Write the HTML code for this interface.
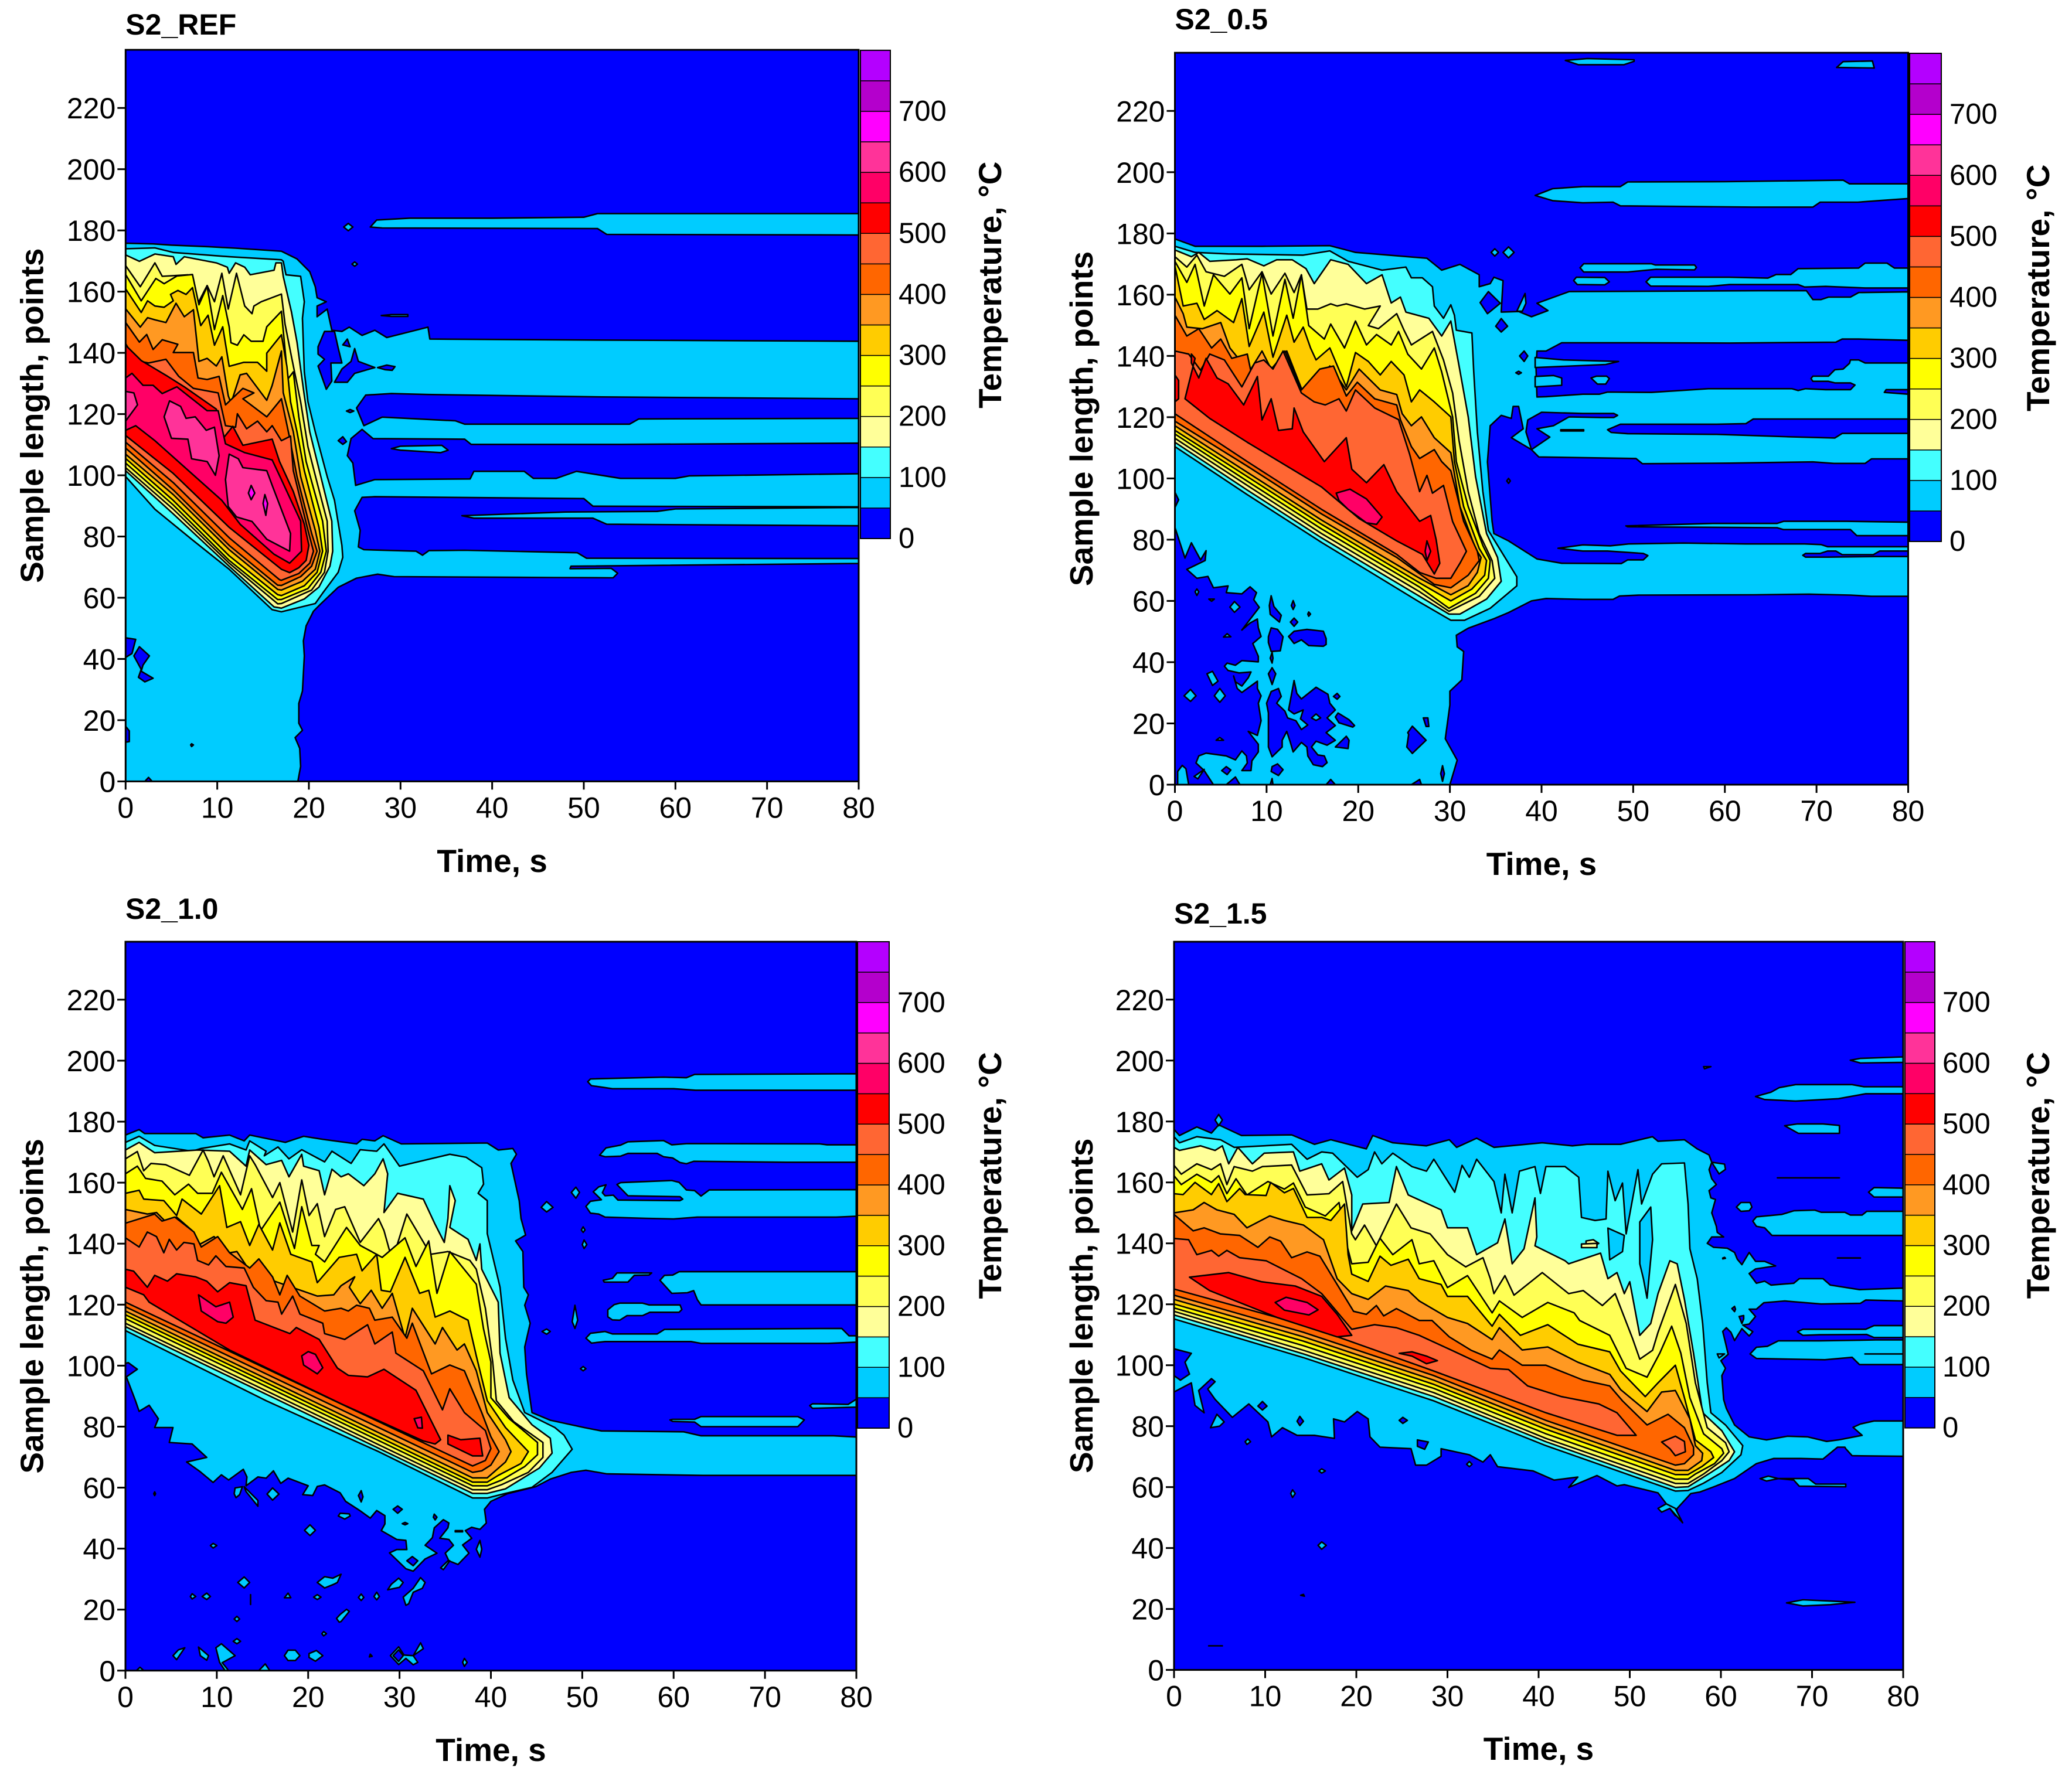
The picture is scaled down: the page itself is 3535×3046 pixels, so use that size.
<!DOCTYPE html>
<html lang="en">
<head>
<meta charset="utf-8">
<title>Temperature contour maps</title>
<style>
html,body{margin:0;padding:0;background:#fff}
svg{display:block}
text{font-family:"Liberation Sans",Arial,sans-serif;fill:#000}
</style>
</head>
<body>
<svg id="figure" xmlns="http://www.w3.org/2000/svg" width="3535" height="3046" viewBox="0 0 3535 3046"></svg>
<script>
/* ---------- shared scales ---------- */
const timeTicks=[0,10,20,30,40,50,60,70,80];
const pointTicks=[0,20,40,60,80,100,120,140,160,180,200,220];
const legendTicks=[0,100,200,300,400,500,600,700];
const levelColors=["#0000ff","#00ccff","#44ffff","#ffff99","#ffff55","#ffff00","#ffcc00","#ff9922","#ff6600","#ff6633","#ff0000","#ff0066","#ff3399","#ff00ff","#b400cc","#b400ff"];

/* ---------- S2_REF : contour outlines as flat [time,points,...] ---------- */
const refL1=[[0,0,0,175.8,3,175.6,5,175.2,9,174.7,12,174.2,17,173.2,18.7,170.7,20.1,166.5,20.7,161.6,20.9,158,21.9,156.7,20.9,155.3,20.9,151.8,22,154.3,22.5,147.4,23.6,147,24.4,148.4,25.8,145.7,27.2,147.4,28.5,145,33,148.4,33.2,144.5,50,144.2,80,143.8,80,71.2,48.6,70.3,48.5,69.5,53,69.6,53.7,68,53.2,66.5,46.8,66.6,29.3,66.9,27.5,67.7,25.2,66.4,23.2,63.4,21.3,58,20.5,55.6,19.7,50.8,19.4,45.9,19.5,41,19.3,29.5,18.9,25.5,18.9,19,19.3,16.7,18.5,14.3,19,10.8,19.1,4.9,18.8,0]];
const refHoles=[
[80,125,52,125.6,33,126.4,29,126.7,26.2,126.2,25.2,122,26,116.2,28,119,36,117.8,37,116.7,55,116.7,56,118.4,80,118.6],
[80,110.5,54,110.1,37.7,110.1,37,111.8,27,112,25.8,115,24.6,112,24.2,106.4,24.8,104,25.1,96.7,27.2,98.6,37.6,98.8,38,101.3,43.5,101.3,44.5,99,47,99,49.2,101.3,54,99,60,99,61.5,99.8,80,100.5],
[80,89.7,51,89.9,50,92.4,27.2,93,25.8,92.8,25,88.4,25.6,82,25.4,76.6,26,75.7,31.7,75.2,32.4,73.9,33.1,75.4,37,75.5,49.3,74.7,50.3,72.9,80,72.8],
[21.7,147,22.8,147,23.2,141.6,23.6,136.7,22.4,136.7,22.5,130.8,21.9,128.1,21,135.7,21.7,137.9,21,139.6,21,142],
[23.7,142.6,24.2,144.5,24.5,142],
[22.8,130.4,23.6,134.7,24.6,137.2,25,141.4,25.4,137.2,27.2,135.2,25,133.3,24.2,130.4],
[27.5,135.2,28.5,136,29.4,135.5,29.1,134.3,28.3,134.5],
[24.1,121,24.5,121.5,24.9,121,24.5,120.5],
[23.2,111.3,23.7,112.6,24.1,111,23.7,110.1],
[0,46.9,1.1,46.4,0.7,41.8,0,40.5],
[1.5,44,2.6,41,1.9,38,1.7,36,3,33.7,2.1,32.5,1.4,34,1.7,36.6,0.9,41],
[0,18,0.4,16.5,0.4,13,0,12.8],
[2.1,0,2.5,1.3,2.9,0],
[7.2,12.3,7.4,11.9,7.2,11.4,7.1,11.9]
];
const refIslands=[
[26.7,181.1,27.4,183.4,31,184,40,184,50,184.3,51.5,185.5,80,185.5,80,178.5,52.5,178.7,51.5,180.6,28,180.8],
[36.7,86.8,48,88,58,88.2,60,89,80,89.5,80,83.5,52.5,84,51,86,38,86],
[29,108.7,30,109.5,34.5,109.8,35.2,108.2,34.4,107.4,30,108.2],
[23.8,181.1,24.3,182.3,24.8,181.1,24.3,179.9],
[24.7,169,25,169.7,25.3,169,25,168.3],
[27.9,152.2,29,152.5,30.8,152.5,30.8,151.9,29,151.9]
];
const refL2=[[0,174,3.2,174.3,5.2,172.8,11.3,171.4,17,170.4,17.2,169.9,17.5,165.5,19.1,165,19.5,156.7,19.3,151.3,19.5,133.8,19.9,124,20.7,114.2,22,99.6,22.8,91.8,23.6,77.1,23.7,73.2,23.2,68.3,21.5,61.5,20.7,58.1,17,55.4,16,56.1,11.3,69.3,7.2,79.1,3.2,88.9,0,99.6]];
const refL3=[[0,172,1.5,169.9,3.2,172.3,5.2,171.4,5.5,168.9,6.4,171.4,9.9,169.4,11.1,168,11.3,166,12,169.4,13,168,13.6,165.5,16.2,167,16.4,169.4,17,169.4,17.2,165,18.1,153.3,18.7,143.5,19.5,126,20.1,114.2,21.3,99.6,22.5,85,22.6,75.2,22.3,70.3,21.1,63.5,19.5,59.6,17,56.6,16.2,57,11.3,70.3,5.2,87.4,0,101.5]];
const refL4=[[0,168.5,1.6,161.6,3.2,169.4,4,165,6.8,165.5,7.9,156.2,8.9,162,9.7,156.7,10.5,166,11.2,154.3,12.1,166,13,155.3,13.8,152.8,14,155.3,14.8,156.7,17,159.2,17.4,149.4,18.1,138.7,19.1,124,19.9,109.3,20.9,97.6,22,85,22.1,75.2,21.7,68.3,20.3,62.5,17,58.1,16.6,58,11.3,71.3,5.2,88.9,0,102.5]];
const refL5=[[0,165.6,1.7,157,3.3,164.3,4.2,162.6,5.6,165.1,7.3,165.6,8,155.7,8.9,161.7,9.7,147.6,10.6,158.7,11.3,148.5,11.5,143.3,12.2,142.5,12.9,145.9,13.7,143.8,15,143.8,15.4,148.5,17,153.6,17.3,144.2,17.7,131.4,18.3,133.8,18.9,119.1,19.7,104.5,21.5,85,21.9,75.2,21.3,68.3,19.9,63,17,59.4,16.6,59.4,11.3,72.2,5.2,90.3,0,104],[3.6,152.4,4.1,153.8,4.9,152.4,4.2,151.6]];
const refL6=[[0,160.9,1.7,153.2,2.4,157,3.2,155.3,4.2,154.9,5.2,157,4.9,159.1,5.7,160.4,6.6,159.1,7.3,161.3,8.2,148.9,9,152.3,9.7,142.5,10.6,148.5,11.3,135.6,12.9,136.9,14.4,136.9,15.4,134,15.4,139.9,17,145.9,17.6,135.6,18,124,18.7,114.2,19.5,101.5,21.1,83,21.5,75.2,20.9,68.3,19.5,63.9,17,60.7,16.6,61,11.3,73.7,5.2,91.8,0,105.5]];
const refL7=[[0,154.4,1.6,148.4,2.4,151.5,3.2,150.8,4.4,149.9,5.5,156.2,6.4,151.8,7.4,154.1,8,137.2,8.9,138.2,9.9,135.7,10.5,138.7,11.2,126,11.5,123.5,12.5,132.8,13.2,133.3,15.4,124.5,16,129.4,17,140.6,17.2,127,18.3,114.2,19.1,99.6,20.7,82,21.2,75.2,20.7,69.3,19.3,65.4,17,62.5,16.6,62.7,11.3,75.7,5.2,93.7,0,106.9]];
const refL8=[[0,149.9,1.5,143.5,2.3,146,3,141.1,4,144.3,5.7,142.8,5.2,140.1,7.4,140.1,7.9,131.8,8.9,131.3,10.2,132.3,10.9,123,12.8,128.4,14,126.9,12.8,125,15.4,119.1,17,125,17.9,112.3,18.7,99.6,20.3,81,20.9,75.2,20.3,70.3,19.1,66.9,17,64,16.6,64.1,11.3,77.1,5.2,95.2,0,108.9]];
const refL9=[[0,143,1.1,137.5,2.5,136.7,4.4,137.9,5.8,132.3,7.4,128.4,10.1,126.9,10.9,116.2,12,115.7,12.2,120.1,13.2,115.2,14.4,117.7,15.4,114.2,16,116.2,17,111.3,18,112.8,18.3,101.5,19.9,82,20.5,75.2,20.1,71.3,18.9,67.9,17,65.7,16.8,65.9,11.3,79.6,5.2,97.6,0,110.8]];
const refL10=[[0,142.5,1.7,137.5,4.6,132.3,6.4,128.9,9.9,121.6,10.7,112.3,11.7,116,12.8,109.8,16,111.8,16.8,104.5,18.3,94.7,19.5,84,20,77.1,19.7,72.2,18.9,69.8,17.9,68.2,17,69.3,11.3,83,5.2,100.6,0,113]];
const refL11=[[0,131.8,0.7,133.3,1.9,129.4,3,129.4,4,126.7,5.6,128.9,8.9,121.1,10.1,121.1,10.9,110.3,13,107.4,16,105,17,98.6,19.1,85,19.2,75.2,17.9,71.3,16.2,74.2,12.5,84,10.5,91.8,7.2,100.6,3.2,111.3,1.1,116.2,0,114.7]];
const refL12=[[0,127.4,0.9,126.9,1.3,123,0,117.7],[4.8,124.3,6,122.5,6.6,118.6,7.6,119.1,8.8,114.7,9.7,115.7,10.2,106.4,9.8,100,8.9,104.5,7.2,105.4,6.8,111.8,5,112.1,4.2,119.1],[11.3,106.9,12.3,105.4,12.8,102.5,15.4,101.5,16,96.7,18,81,17.9,75.2,15.4,79.1,13.8,84.9,12.1,86.4,11.2,89.8,10.9,98.6]];
const refL13=[[13.7,96.7,14.1,94.2,13.7,92,13.4,94.2],[15.2,93.7,15.5,90.8,15.3,86.9,15,90.8]];

/* ---------- S2_0.5 ---------- */
const p05L1=[[0,178.2,2.2,175.8,9.5,175.8,16.9,176,19.7,173.8,27.5,171.9,29.1,168,31.1,169.9,33.2,166.5,33.2,162.6,34.4,163.6,34.8,165.7,35.8,164.6,35.6,154.3,37.5,154.5,38.9,152.8,40.7,154.8,39.5,157.2,43,161,63.7,161.3,68.9,161.3,69.6,158.4,70.5,158.4,71.3,159.2,73.7,159.2,74.6,160.7,80,160.9,80,61.5,76,61.5,73.7,61.9,69.2,62.2,63.2,62,50.6,61.9,48.5,61.6,47.8,60.5,44.5,60.5,40.5,60.8,38.9,60,36.4,56.2,34.8,54.2,32,51.1,30.7,48.8,30.8,45,31.5,43.5,31.3,34.2,30,30.5,30,26,29.5,15,30.8,8,30,0,0,0]];
const p05Holes=[
[80,145.1,74.6,145.5,72.8,145.5,72.1,144.5,60.5,144.2,49.2,144.3,44.5,144.3,42.2,144.3,40.5,141.6,39.5,141.6,39.4,136,39.5,126.6,40.5,126.7,44.5,127.5,46.3,127.5,47.2,128.2,52,128.1,58.2,129.3,67.3,129.3,68,128.7,68.8,129.3,71,129,73.7,129,74.2,130.5,73.7,131.2,72,131.2,71.3,131.7,69.6,131.7,69.4,132.6,69.6,133.4,71.3,133.4,72,135.5,72.9,135.7,73.6,137.6,73.7,138.7,74.6,138.7,75.3,137.7,80,137.7],
[77.4,128.1,77.6,129,80,129,80,127.5],
[80,106.4,76,106.4,75.3,104.9,71.9,104.9,69.6,105.4,60.5,105,51,104.8,50.3,106.5,39.7,107,38.9,109.4,36.7,113.3,38,116.2,37.5,123.5,36.9,123.5,36.7,119.6,35.6,120.6,34.4,117.2,34.1,105.4,34.6,86,34.8,82,36.4,79.6,39.5,73.7,42.2,72.3,48.7,72.2,49.4,73.4,51.1,73.4,51.6,74.8,51.1,75.5,47.2,76.3,44.5,76.3,41.8,77.2,44.5,78.3,47.5,78,49.5,78.6,55.5,78.9,62.3,78.6,68.7,78.6,70.5,78.4,71.2,77.7,80,77.7],
[47.2,115.9,48.6,117.7,59.1,117.7,62.3,117.9,63.1,119.4,80,119.4,80,114.7,72.8,114.7,72,113.2,66.9,113.6,59.1,114.4,49.4,114.6,47.6,115],
[38.5,119.1,40,121.6,44.5,121.2,47.9,121.2,48.3,120.6,47.9,119.9,46.5,119.9,43,120.1,41.3,117.2,39.5,116.2,40.9,113.5,38.9,109.4,38.3,115.2],
[68.5,74.9,68.8,75.5,70.4,75.5,71.2,76.3,72.1,76.3,72.8,75.1,76.2,75.1,76.9,76.3,80,76.3,80,74.5,76.4,74.5,71.2,74.3,68.8,74.3],
[34.2,161,35.5,157.2,34.1,153.8,33.3,157.4],
[35.6,152.2,36.3,149.7,35.6,147.8,35,149.7],
[38.1,141.6,38.5,140,38.1,138.2,37.6,140],
[37.2,134.5,37.5,135,37.8,134.5,37.5,134],
[36.4,100,36.6,99.2,36.4,98.4,36.2,99.2],
[0,95.5,0.4,93,0,90.5],
[0,0,0.3,0,0.3,4.3,0.8,6.3,1.2,5.2,1.5,0,4.2,0,3.2,4.6,2.3,7.1,2.6,9.4,3.4,10.3,5.6,9.4,6.6,8.1,7.3,11,7.8,9.4,7.9,7.1,7.3,4.6,8.3,4.6,8.4,7.8,9.1,10.7,9.1,13.2,8,17.4,9,16.1,9.4,20.9,9.1,26.6,9.4,29,9,31.4,9,33.8,7.3,30.1,6.8,31.4,6.4,35.5,6.6,33.6,7.3,32.2,8,34.9,8.3,36.8,7,36.5,5.8,37.3,5.4,38.7,5.7,39.7,6.6,39,7.3,40.5,9.1,40.1,9.1,41.9,8.5,46.1,9.4,48.4,9.1,51.2,9,54.1,8.2,52.8,7.3,50.5,9.2,57.9,8.6,60.4,8.9,62.7,8.2,64.6,7.3,62.3,5.6,62.7,5.8,64.9,4.2,64.3,3.6,68,2.4,67.4,1.3,70.3,3.3,73.2,3.4,76.4,2.8,73.4,1.8,79,1.1,74,0,84],
[5.6,0,6.6,2.5,7.1,0],
[10,26.6,10.5,30.4,11.3,31.4,11.6,28.8,11.1,26.6,12,24,12.3,21.8,13.2,20.9,13.8,18,14.5,19.5,13.7,21.5,14,24.4,13,23.1,12.4,24.4,12.7,29.2,13,34,13.3,29.8,13.8,28,15.4,31.8,16.7,29.5,16.9,26.6,17.5,24.4,16.6,21.8,17.5,19.3,16.5,17,17.5,14.5,16.6,12.9,15.4,14.2,14.9,12.3,15.6,9.7,16.3,9.4,16.6,7.2,16.1,5.9,15.1,6.5,14.5,9.4,14.4,12.3,13.8,13.8,12.9,10.7,12.6,13.8,12.2,17.4,11.7,14.5,11.7,12.3,10.6,9.1,10.2,12.3,10.2,23.4],
[10.5,61.7,10.8,58.2,11.6,55.3,11.4,53.1,10.4,55.6,10.3,58.5],
[10.5,51.2,11.2,50.7,11.8,48.3,11.5,43.7,10.5,43.5,10.2,46.4,10.2,48.3],
[10.6,43.2,10.7,41.3,10.6,39.7,10.4,41.3],
[10.6,38.2,11,36.2,10.6,32.7,10.2,36.2],
[12.9,60.1,13.1,58.5,12.9,57.2,12.7,58.5],
[13,54.4,13.4,53.1,13,51.7,12.6,53.1],
[14.6,56.4,14.8,55.7,14.6,55,14.5,55.7],
[12.4,48.4,13,50.1,14.4,50.7,16.2,50.1,16.5,47.7,16.5,45.8,16.2,45.2,14.6,45.4,13.8,47.3,13,46.1],
[17.7,29.8,18,28.8,17.7,27.9,17.3,28.8],
[17.8,23.4,19,21.2,19.6,19.3,19.4,18.8,17.9,20.2,17.5,22.1],
[18.7,15.8,19,14.5,18.9,11.8,17.5,12.3],
[27.1,21.8,27.6,21.8,27.7,19,27.4,19],
[25.9,19.1,27.4,14.5,25.9,10.2,25.3,12.3,25.5,16.4,25.4,17],
[29.2,6.2,29.4,3.6,29.2,1.1,29,3.6],
[11.2,6.8,11.8,4.9,11.3,3,10.5,4.3,10.6,5.9],
[10.6,2,10.7,0,10.4,0],
[17,1.7,17.5,0,16.5,0],
[26.7,1.7,26.9,0,25.8,0],
[5.6,5.9,6.1,4.8,5.7,3.3,5.1,4.6]
];
const p05Islands=[
[39.3,192.4,41.2,194.6,44.5,195.3,48.6,195.3,49.4,196.8,60,196.9,72.9,197.4,73.6,196.2,80,196.2,80,191.4,74.5,190.2,70.4,190.2,69.6,188.6,63,188.6,48.6,189,47.8,190.2,44.5,190,41.2,190.7],
[42.6,236.5,45,237.1,50.1,236.7,50.1,236.2,49,235.1,44,235.1],
[72.2,234.2,72.9,236.1,76.1,236.3,76.3,234],
[44.2,168.8,44.6,170.1,52,170.1,52.4,169.7,56.7,169.7,56.9,168.9,56.7,168.1,52.5,168.3,49.4,167.4,44.6,167.4],
[43.5,164.6,43.8,165.7,46.9,165.6,47.4,164.2,46.9,163.2,43.9,163.3],
[51.4,164.2,51.9,165.7,60.5,165.7,64.7,165.4,65.6,166.6,67.2,166.6,68,168.5,74.6,168.7,75.3,170.3,77.7,170.3,78.5,168.7,80,168.7,80,162.2,75.3,162.2,71,162.7,68.7,162.5,68,163.3,60.5,163.3,58.2,162.7,51.9,162.8],
[39.3,139.5,42.4,138.7,48.4,138.2,47,137.2,39.3,136.2],
[39.3,133.3,41.3,133.6,42.2,132.8,42.2,130.4,39.3,129.9],
[45.4,132.8,46,133.4,47.1,133.4,47.4,132.6,47,130.8,46.1,130.8],
[49.2,84.5,58.7,85.3,65.7,85.3,66.4,86,73.3,86,80,85.7,80,81.3,74.4,81.3,73.7,83.3,66.4,83.3,65.7,83.9,49.4,84.2],
[38.2,160.4,38.3,157.2,37.9,154.6,37.3,154.6],
[34.5,173.8,34.9,175,35.3,173.8,34.9,172.6],
[35.8,173.8,36.4,175.6,37,173.8,36.4,172],
[42.1,115.9,44.6,115.9,44.6,115.5,42.1,115.5],
[2.4,63.9,2.6,63,2.4,61.8,2.2,63],
[3.7,60.6,4.3,60.6,4,59.9],
[6.5,59.8,7.1,58,6.5,56.3,6,58],
[5.7,49.3,6.1,48.3,5.3,48.2],
[4.1,37,4.7,33.8,4.1,32.4,3.5,36.2],
[1.7,31.1,2.3,29,1.7,27.2,1,29],
[4.9,31.4,5.5,29,4.9,26.9,4.3,29],
[15.4,23.1,15.9,21.8,15.4,21,14.9,21.8],
[4.9,15.4,5.3,14.5,4.5,14.5],
[2.1,2.7,3.2,5,2.5,1.9]
];
const p05L2=[[0,175.8,2.2,173.8,5.8,173.3,14,172.9,16.9,174.3,18.9,170.9,22.6,168,25.2,169,25.8,165.5,27,165.5,28.1,162.6,28.3,156.3,29.3,152.3,30.1,156.7,30.5,153.3,30.7,148.4,32.4,147.5,32.6,134.8,33,115.2,33.6,95.7,34.2,83,35.6,76.2,37.3,67.9,37.3,64.9,34.4,57.6,31.6,53.7,30.1,53.7,26.7,59.6,16,79.1,7.9,94.7,0,110.4]];
const p05L3=[[0,174.6,1.8,172.4,2.6,173.8,3.8,170.9,6.7,171.4,7.9,171.7,9.7,169.4,11.1,171.4,12.8,171.4,14.3,168.5,15.2,163.6,17,171.4,18.9,169.9,20.9,163.6,22.6,166.5,23.6,157.3,24.6,159.2,25.2,154.3,27.7,152.3,29.1,146.5,30.1,151.4,31,136.7,32,120.1,32.8,100.6,34,82,35.2,74.2,35.6,66.4,34,60.6,31.1,55.7,29.9,55.7,26.7,61.5,16,80.6,7.9,96.2,0,111.8]];
const p05L4=[[0,172.4,1.3,169,2.4,172.9,3.4,167.5,5.4,166,7.3,169.9,8.1,161.6,9.5,167.5,10.5,160.2,12,167,13,160.7,13.8,166.5,14.4,155.3,15.6,155.3,17,157,17.7,156.3,18.7,157,20.7,155.3,22.4,156.3,21.1,149.9,22.2,148.9,24.2,153.8,25,148.4,25.8,143.6,28.1,148,29.3,138.7,30.3,127.9,31,112.3,32,95.7,33.2,82,34.6,73.2,34.9,67.4,33.2,61.5,29.9,56.6,26.7,63,16,82,7.9,97.7,0,113.1]];
const p05L5=[[0,170.9,1.3,164,2.2,169.9,3.2,156.3,4.2,166.5,6,160.2,7.3,165.5,8.1,148.9,9.5,167,10.7,146.5,12,165,12.9,152.3,13.8,166.5,14.6,149.9,16.3,145.5,17,150.4,18.5,142.6,19.7,151.4,20.9,143.6,22,147,23.6,143.6,24.4,148,25.4,140.6,26.9,135.7,28.3,142.6,29.1,134.8,30.3,120.1,30.7,105.5,32,90.8,33.6,78.1,34.4,73.2,34.2,67.4,32.8,62.5,29.9,57.6,26.7,64.5,16,83.5,7.9,99.1,0,114.5]];
const p05L6=[[0,169.4,0.9,156.3,2.4,157.2,3.2,151.9,4.6,154.8,6.4,150.9,7.3,158.7,8.1,143.1,9.7,154.3,10.7,139.6,12.2,153.3,13,144.5,14,149.4,14.8,142.6,15.4,138.7,16.9,142.6,18.7,129.9,19.7,141.1,21.1,138.2,22.4,133.8,23.6,138.2,25,133.8,25.8,125,26.7,128.9,28.3,125,30.1,120.1,30.5,105.5,31.5,90.8,33.2,77.1,34,73.2,33.8,68.4,32.4,63.9,30.1,60,26.7,65.9,16,85,7.9,100.6,0,115.7]];
const p05L7=[[0,159.2,0.9,153.8,1.3,149.4,3,148.9,5,150.9,6,142.6,8.1,134.8,9.5,141.6,10.5,135.7,12.2,141.6,14,127.9,15.4,131.8,16.9,136.7,18.7,128.9,20.1,135.7,22.4,128.9,24.2,127.4,24.8,121.1,25.8,117.2,26.9,120.1,28.3,113.3,30.1,108.4,31.1,90.8,32.8,77.1,33.4,74.2,33,69.3,32,65,30.1,62,26.7,67.4,16,86.4,7.9,102,0,117.2]];
const p05L8=[[0,153.3,1.3,146.5,2.6,148.9,4,142.6,5,145.5,6.2,139.2,7.9,140.6,8.3,134.8,9.5,136.7,10.5,135.3,12,141.6,13.8,128.9,15.8,135.7,17.3,136.7,18.7,126.9,19.9,131.4,21.8,126,24.2,124,24.6,119.2,25.8,110.4,26.7,106.5,28.3,109.4,29.1,105.5,30.1,102.5,31.5,86,33,76.2,33.2,73.2,32,68.4,30.1,64.3,28.3,65.4,24.2,74.2,16,88.4,7.9,104,0,118.7]];
const p05L9=[[0,141.6,1.5,140.6,2.8,135.3,3.8,140.6,5.4,138.7,7.3,129.9,8.7,137.7,9.7,138.7,10.7,135.7,11.8,141.6,13.8,127.9,15.2,125,16.4,124,17.9,126,18.7,122,19.7,128.9,21.8,123,24.4,119.2,25.6,108,26.7,95.7,27.5,101,28.1,95.2,29.3,97.7,30.3,85.9,31.8,76.2,31.1,72.3,30.1,67.4,28.5,67.4,26.7,69.3,24.2,75.2,16,89.9,7.9,105.5,0,121.1]];
const p05L10=[[1.8,140.6,2.2,139.2,1.1,126,3.8,119.6,7.9,111.8,16,97.2,20.1,86.9,24.2,79.6,27,75.2,28.3,68.8,28.9,72.3,28.5,80,27.9,87.9,26.7,86,24.2,95.7,22.8,104.5,20.9,98.6,19.3,103,18.7,113.3,16.3,105.5,14,115.2,13,123,12.8,116.2,11.3,115.7,10.5,126,9.5,119.1,9,133.3,7.5,124,5.8,130.9,4.6,132.8,3.4,139.2,2.6,132.8,1.8,137.7],[0,133.8,0.4,132,0.4,126,0,125]];
const p05L11=[[17.6,95.2,19.1,96.5,20.9,93.3,22.6,87.4,22,85,20.9,85.5,18.9,89.9,17.9,92.8],[27.5,79.6,27.9,76.2,27.5,73.2,27.3,76.2]];

/* ---------- S2_1.0 ---------- */
const p10L1=[[0,175.6,1.5,177.4,2.1,176.1,7.7,176.1,8.5,174.7,11.4,175.6,13,173.7,13.6,175.6,17.5,173.2,19.5,175.2,21.6,174.2,25.3,172.7,25.9,174.2,27.3,173.7,28.2,175.4,30.2,172.7,39.6,173,40.8,170.7,42.4,171.2,42.8,169.3,42.2,166.3,43.1,154.1,43.3,148.2,43.8,142.8,42.7,140.9,43.5,137.4,43.6,125.7,44.1,123.2,43.7,119.8,44.3,113.9,43.7,106.1,43.9,97.3,44.5,84.6,46.5,82.1,50.2,79.7,52.1,78.6,61.1,78.3,63,77,77.5,77,80,76.6,80,64,63.2,64,52.7,64.5,50.4,65.7,48.8,65,46.5,62.8,44.9,60.3,41.8,58,40,55.5,39.3,52.9,39.5,48.4,38.8,46.3,37.9,47,37.2,45.9,37.9,43.4,36.9,41.2,37.6,38.5,36.4,34.8,35.4,36,35,38.5,35.9,41.1,35.4,43,34.4,43.4,35.3,46.8,35.4,48.4,34.8,49.5,33.8,46.8,33.6,43.6,32.8,41.1,34.1,38.5,32.8,36.6,31.5,32.6,30.7,33.4,28.9,38.6,29.7,39.7,30.8,39.7,30.7,42.7,29.7,43,28,45.9,28.4,48.1,28.4,50.8,27.5,52.5,26.8,50,25.6,52.6,24.1,55.5,23.5,58.3,21.8,60.9,21,60.4,20.5,57.4,19.4,57.7,20,60.6,17.8,63.1,17,61.4,16.2,65.5,15.4,63.1,14.5,63.5,13.2,60.6,13.3,63.5,12.9,66,11.3,62.5,10.5,64.2,9.6,61.7,8.1,65.4,6.7,68.4,8.9,69.9,7.3,74.3,4.8,74.8,5.2,79.7,3.2,79.7,3.6,82.6,2.6,87,1.5,85,1.1,88.5,0.1,96.3,1.3,98.8,0.3,101,0,100.7]];
const p10Holes=[
[25.8,59,26,57,25.8,55.3,25.5,57.4],
[29.8,54,30.3,52.9,29.8,51.6,29.3,52.9],
[33.8,51.3,34.1,50.3,33.9,49.4,33.7,50.3],
[31.4,37.4,32,36,31.5,34.4,30.8,36],
[30.6,48.6,30.9,48.2,30.6,47.8,30.3,48.2],
[36.1,45.9,36.9,45.9,36.9,45.5,36.1,45.5]
];
const p10Islands=[
[50.6,193.1,50.9,194,58.9,194.6,61.4,194.4,62.3,195.5,80,195.7,80,190.3,62.4,190.3,60,190.8,53.3,190.8,51,191.8],
[51.9,169,52.6,171.4,54.2,172.3,55,173.4,58.9,173.8,59.8,172.4,61.5,172.8,76,172.7,76.8,172.4,80,172.4,80,166.7,72.4,166.7,62.2,167,61.4,166.2,60.7,166.6,59.9,168.1,58.9,168.5,58.2,169.6,55,169.6,54.2,168.7,52.5,168.5],
[50.4,152.2,50.9,153.9,52.1,154.4,51.2,157,51.8,158.6,52.6,159.3,52.2,156.7,52.5,155.7,53.4,155.9,53.9,154.3,60.7,154.1,61,154.6,60.7,155.4,55,155.7,53.8,159.4,54.2,160,59.8,160.7,60.6,160.1,61.4,157.6,62.3,157.4,63,155.6,63.9,157.6,80,157.7,80,149,77.8,148.7,62.6,148.7,60,148.1,57,148.3,52.5,148.7,51.8,149.7,50.9,150],
[52.3,128,53.3,128.6,53.8,130.4,57.6,130.4,57.3,129.7,55.7,129.6,55,127.4,52.4,127.4],
[58.5,128,59,129.6,59.9,129.7,60.6,130.8,80,130.8,80,119.9,63,119.9,62.6,121.6,62.2,124.6,61.5,123.9,59.8,123.7],
[52.8,118.3,53.5,120,54.1,120.5,56.6,120.5,57.3,119.9,60.7,119.9,60.9,118.4,60.6,117.5,57.4,117.5,56.6,116.4,54.9,116.4,54.1,114.9,53.3,115,52.8,116],
[50.4,109,50.9,110.6,52.5,111.2,53.3,110.4,58.2,110.4,59,111.9,78.4,112.2,79.2,109.8,80,109.8,80,107.7,76.9,107.3,63,107.3,61.9,107.9,52.5,107.9,51,107.4],
[74.9,86.9,75.2,87.5,79.1,87.3,80,89,80,86.4,75.2,86],
[59.6,82.2,59.9,82.4,62.3,82.4,63,83.3,73.6,83.3,74.3,82.2,73.6,80,63,80,62.3,81.5,59.9,81.7],
[46.1,153.8,46.8,151.9,46.1,150.4,45.5,151.9],
[49.3,158.5,49.7,156.8,49.3,154.9,48.8,156.8],
[50.1,145.5,50.3,144.5,50.1,143.7,49.9,144.5],
[50.2,141.2,50.5,139.7,50.2,138.4,50,139.7],
[49.2,119.8,49.5,114.9,49.2,112.2,48.9,114.4],
[46.1,112,46.5,111.2,46.1,110.3,45.6,111.2],
[50.1,99.7,50.4,99,50.1,98.3,49.8,99],
[12,59.9,12.8,60.3,12.5,57.7,12.1,56.7,11.9,58],
[13,60.3,14.5,55.8,14.5,53.9,13.2,58.7],
[16.1,59.9,16.8,57.9,16.1,55.9,15.5,57.9],
[3.2,58.6,3.3,58,3.2,57.4,3.1,58],
[20.2,47.8,20.8,46,20.2,44.3,19.6,46],
[23.5,51.6,24.5,51.4,24.6,50.7,24,49.7,23.3,50.7],
[9.6,41.7,10,41,9.6,40.2,9.3,41],
[13,30.7,13.6,28.9,13,27.1,12.3,28.9],
[21,28.9,21.8,30.8,22.7,30.3,23.6,31.6,23.2,28.9,22.8,28.3,21.8,27.1],
[29.9,30.3,30.4,28.9,30,27.3,28.7,26.5,29.1,28.3],
[32.3,30.5,32.8,28.9,32.5,27,31.5,25.7,31,21.9,30.7,21.4,30.4,24.1,31.5,27],
[35.3,36,35.5,36,34.8,33.1,34.5,33.7],
[38.8,42.7,39,39.8,38.8,37.2,38.4,39.8],
[7.3,25.2,7.7,24.3,7.3,23.5,7.1,24.3],
[8.9,25.4,9.3,24.3,8.9,23.3,8.4,24.3],
[17.8,25.4,18.1,23.9,17.4,23.9],
[21,24.9,21.4,24.1,21,23.3,20.6,24.1],
[25.8,25.1,26.1,24,25.8,23,25.5,24],
[27.5,25.7,27.8,24.3,27.5,23.2,27.2,24.3],
[24.2,20.1,24.5,19.4,23.6,16.1,23.4,15.9,23.1,17.1,23.5,18.4],
[12.2,17.8,12.5,16.9,12.2,16.1,11.9,16.9],
[21.7,12.8,22,12.1,21.7,11.4,21.5,12.1],
[12.2,10.5,12.6,9.6,12.2,8.8,11.8,9.6],
[6.5,7.5,5.6,3.6,5.2,4.9,5.8,6.8],
[8,7.7,9.1,4.9,8.9,3.4,8.2,4.9],
[10.5,8.8,12,4.9,10.6,2.6,11.3,0,10.9,0,10.3,2.7,9.9,7.5],
[17.8,6.7,18.6,6.7,19.1,4.9,18.6,3.3,17.8,3.3,17.4,4.9],
[20.9,6.6,21.6,4.9,20.8,3.1,20.1,4.3,20.1,5.6],
[29.9,7.8,30.5,5.1,31.5,4.9,32.3,9.1,32.6,7.2,31.5,4.9,32,2.7,31.5,1.9,30.7,4,29.9,2,29,4.9],
[37.1,4,37.4,2.7,37.1,1.4,36.9,2.7],
[15.3,2.2,15.8,0,14.6,0],
[1.6,1.1,2,0,1.2,0],
[26.8,5.4,27,4.7,26.7,4.5],
[13.7,24.9,13.7,21.7]
];
const p10Centers=[[29.9,6.8,30.4,4.9,29.9,3,29.3,4.9]];
const p10L2=[[0,173.2,1.5,175.2,3.2,172.2,7.3,170.3,8.3,171.2,11.4,172.7,13.2,170.7,13.6,173.7,15.4,170.3,15.2,168.8,16.7,171.7,17.9,167.8,19.3,170.8,21.8,166.8,22.6,170.3,24.7,166.3,25.7,170.8,27.5,170.3,28.3,172.7,30,165.4,35.5,169.3,37.3,168.3,39,164.9,39.2,159.5,38.6,156.5,39.6,154.1,39.6,143.3,41,125.7,41.6,109,42.4,95.3,43.7,84.6,47,79.7,48,77.2,48.9,72.6,46.7,65,44.5,60.1,41.6,58.1,39.6,56.6,38,56.6,27.7,71.8,15.4,88.5,0,111.5]];
const p10L3=[[0,170.7,1.5,173.2,3.2,169.8,7.9,170.7,11.4,170.3,13.2,165.4,13.6,170.7,15.4,165.9,17.1,167.3,17.9,161.9,19.3,169.3,19.5,165.4,21.2,163.9,21.8,156,22.6,164.4,23.6,161.9,24.4,162.9,26.1,159,27.3,162.9,28.2,167.8,28.7,162.9,28.3,150.2,29.8,156.5,32.6,154.6,33.9,146.3,34.9,140.4,35.3,148.2,35.5,159,36.1,154.1,35.5,145.3,37.5,141.4,38.4,134.5,38.8,139.9,39,131.6,40.8,120.8,41,104.1,42,89.5,44.5,80.6,46.5,76.2,46.7,71.3,45.3,66.4,41.6,59.6,39.6,58.1,38,58.1,0,112.8]];
const p10L4=[[0,167.8,1.3,170.2,2,163.9,2.8,166.3,4.4,165.9,7,162.4,8.5,170.7,9.1,166.8,9.7,161.9,10.7,168.8,12.6,156,13.6,168.8,14.2,165.9,16.1,155.1,16.9,160,18.3,143.8,19.3,160.9,20.1,149.2,21,153.1,21.8,142.3,23,151.2,24,152.1,25.7,140.4,27.7,148.2,28.3,144.3,29.2,134.5,30.8,149.7,33.4,136.5,35.3,137.4,37.7,134.5,38.4,131.6,39.4,118.8,40.2,101.2,40.6,88.5,42.5,81.6,45.7,74.8,45.7,69.9,44.1,65,41.2,61,39.6,59.3,38,59.3,0,113.9]];
const p10L5=[[0,162.9,1.3,165.4,2.2,161.4,4,160.5,5.4,156,6.9,159.5,7.9,156.5,9.5,156.5,10.5,163.4,12.8,151.2,13.8,158,14.8,144.3,16.9,153.6,18.5,138.4,19.3,152.1,20.4,139.4,21.2,139.4,20.8,136.5,21.8,134,24.2,145.3,25.7,139.4,28.1,135.5,30.6,141.9,31.8,132.5,33.2,140.9,34.1,123.7,35.5,137.4,38.4,126.7,39.2,112,40,101.2,40,89.5,42,82.6,45.1,74.8,45.1,70.8,43.7,66.9,41.2,62.5,39.6,60.6,38,60.6,0,115.4]];
const p10L6=[[0,156.5,1.5,157.5,2,154.6,4.2,154.1,5.6,149.2,6.2,154.6,8.3,149.7,10.3,159,11.1,145.3,12.6,147.2,13.6,139.4,14.6,146.3,16.1,137.9,16.9,146.8,18.1,136.5,20.4,134,21,127.2,23.4,135.5,25.3,136.5,25.9,131.1,27.5,136.5,28,124.7,29,124.2,30.6,135.5,32.2,123.7,33.2,124.7,33.9,115.9,35.5,117.9,37.5,114.9,38.4,103.2,39.6,88.5,41.6,79.7,44.1,71.8,43.3,67.9,40.8,64,39.6,61.8,38,61.8,0,116.7]];
const p10L7=[[0,151.2,2.4,149.7,3.4,150.2,4.4,147.2,5.6,148.7,7.3,144.3,7.9,139.4,9.7,142.3,11.4,137,12.2,137.4,13.6,131.1,14.6,133.5,16.3,127.7,21,122.8,22.8,123.2,23.6,126.2,25.1,129.1,24.5,125.7,25.7,120.3,26.9,124.7,28.1,118.8,29.2,123.7,30.6,109,31.4,118.8,33.9,107.1,34.7,112.5,36.3,105.1,37.1,107.1,38.4,98.3,39.6,84.6,41.6,75.7,42.2,71.8,41.6,68.4,39.6,63.2,38,63.2,0,117.9]];
const p10L8=[[0,146.7,3.2,149.7,4,147.4,5.4,148.7,7.5,143.8,8.3,138.9,10.1,142.3,11.4,137,13.6,132,14.6,135,16.1,129.1,16.9,123.2,17.7,129.6,19.1,122.8,21.8,117.9,23.6,118.8,24.4,117.9,25.3,119.8,26.7,118.8,27.3,114.9,29.2,115.9,30.8,109,31.4,113.9,33.5,97.3,35.5,100.2,37.1,98.3,39,84.6,40,76.7,40.9,71.8,40,67.4,39,65.5,38,65,0,119.3],[6,137,6.8,138.2,7.2,137,6.4,136.4]];
const p10L9=[[0,141.9,1.5,138.9,2.4,143.8,3.4,142.3,4.2,137,4.8,141.4,5.6,137.9,6.4,140.4,7.5,139.9,7.9,134.5,9.1,133,9.9,136,11,132.5,13,132,14,125.7,15.4,121.3,16.7,120.8,17.1,116.9,18.3,122.8,19.1,116.9,21.6,113.9,21.8,110.5,24,108.6,26.5,113.4,27.3,107.1,29.2,111,29.6,104.1,32.6,98.3,34.7,85.5,35.5,92.4,37.1,84.6,39.4,78.7,40,72.8,39.4,68.9,38,67.1,0,120.8]];
const p10L10=[[0,131.6,0.9,131,2.4,125.7,3.2,129.6,4.6,127.7,5.6,130.1,7.7,129.1,8.9,127.7,10.1,124.2,11.4,127.2,13.2,126.2,14.2,114.9,18,110.5,18.7,112.5,21.2,108.6,23.2,99.2,24.4,96.8,26.5,96.3,28.3,98.8,31.8,91.9,34.5,75.7,33.9,74.3,32.6,75.3,23.6,87.5,11.4,105.1,2.6,120.8,2,123.2,0,125.7],[35.3,77.2,36.7,75.7,38.8,76.2,39.1,70.4,38,70.4,35.3,74.3]];
const p10L11=[[8,123.2,9.9,119.3,11.4,120.8,11.8,115.9,11,113.9,10.1,114.4,8.3,117.9],[20,104.6,20.8,103.7,21.6,99.3,21,97.3,19.5,100.2,19.3,103.2],[31.6,82.6,32.4,83.1,32.5,79.5,32,79.6]];

/* ---------- S2_1.5 ---------- */
const p15L1=[[0,177.4,0.6,175.4,2.5,178.2,4.1,176.2,4.9,178.9,7.4,175.4,12.9,175.6,15.4,172.5,17.2,174,21.1,171,21.8,175.4,24,173,27.7,172,30.2,174,31,171.5,33.2,174.5,35.1,171.5,40.4,173,43.7,172,45.3,172.5,49,172.5,52.5,175,53.1,173.5,56,174,57.4,171,58.7,169,59,166.6,58.7,164.2,59,161.2,59.5,159.3,58.7,157.3,58.9,154.9,59.4,154.4,59,150,59.5,145.6,59.6,143.6,60.3,142.1,59,142.1,58.5,140,59.2,138.7,60.7,138.4,61.5,137,61.8,134.8,62.3,133,63.1,137,63.8,134.1,64.8,134.1,66,132.6,63.8,131.6,63.1,130.1,63.9,126.9,64.8,127.6,65.5,126.3,68,126.9,68.6,128.4,71.2,128.4,72,126.3,75.2,124.8,80,125.3,80,121.1,75.9,121.4,75.3,120.3,71,120.1,67,121.1,64.7,120.5,63.9,118.4,63.1,118.4,63.8,116,63.1,113.5,62.4,113.2,63.5,111,63.1,109.6,62.3,112,61.5,108.1,61.1,110.8,60.6,112.3,60.2,111.1,60.5,107.4,60.8,103.6,60,101.5,60.5,99,60.1,96.6,60.3,88.7,60.6,85.8,61.5,80.4,63.1,76.5,65,75.5,67.3,76.7,69.5,76.5,71.6,75,72.9,75.5,75.5,77,74.5,79.6,75.3,80.7,76.8,81.7,80,81.7,80,70.1,74.4,70.3,73.7,72.6,73.6,73.1,72.8,73.1,71.2,69.2,68.8,69.4,65.8,69.4,63.9,67.7,61.5,62.8,59.4,60.3,57.7,58.4,56.7,57.9,55.2,53,55,50.6,53.1,58.1,49.4,60.8,48.6,60.4,46.4,63.8,43.3,59.9,44.3,63.3,41.7,62.3,39.4,65.3,35.5,66.7,34.7,70.6,33.9,68.2,32.4,70.6,29.3,72.6,29.3,70.1,27.7,67.2,26.5,67.2,26,72.6,22.6,73.1,21.5,76.5,21.3,82.4,20.1,84.8,18.7,81.4,17.5,82.4,17.6,76,15.4,77,13.5,77,11.9,79.5,10.7,76.5,10.3,81.4,8.2,87.3,6.4,82.9,4.5,88.8,3.7,92.2,4.5,94.6,4.1,95.6,2.7,91.7,3.3,84.4,2.3,86.8,1.9,94.2,0,91.2]];
const p15Holes=[
[0,105.4,1.9,103.9,1.2,101,1.7,97.1,0.7,95.1,0,96.6],
[9.7,88.1,10.2,86.6,9.7,85.3,9.2,86.6],
[13.8,83.2,14.2,81.6,13.8,80.2,13.5,81.6],
[25.1,82.9,25.6,81.9,25.1,80.9,24.7,81.9],
[26.7,75.5,27.9,74.8,27.5,72.4,26.7,73.4],
[61.2,118.6,61.5,119.3,61.6,118.4,61.5,117.6],
[62,116,62.5,116.3,62.5,115.2,62.3,113.7],
[60.2,135.2,60.4,135.4,60.5,135.1,60.2,134.9]
];
const p15Islands=[
[74.2,200.1,75.3,200.7,80,201.2,80,199.4,75.3,199.2],
[58.1,198,58.9,198,58.2,197.3],
[63.8,188.2,65.5,189.6,66.4,191.1,68.2,192.1,74.4,192.1,75.7,191.4,80,191.4,80,189.1,75.9,189.1,72.9,187.5,68.2,186.7,64.8,187.2],
[67,178.6,68.4,179.2,71.2,179.2,73,178.7,73,176.1,68.5,176.1],
[66.2,161.5,73,161.5],
[76.2,156.8,76.8,158.3,80,158.1,80,155.2,76.8,155.2],
[61.7,151.9,62.2,153.4,63.2,153.4,63.4,151.9,63.1,150.7,62.2,150.5],
[63.5,147.3,63.9,148.7,66.7,149.5,68,150.7,70.3,150.9,71,150.2,73.6,150.2,74.2,149.3,75.5,149.3,76,150.5,80,150.5,80,142.6,65.6,142.6,64.8,145.1,63.9,145.6],
[59,166.6,60.2,166.1,60.4,166,60.5,164.3,59.8,162.8],
[68.4,111,69,111.8,75.9,111.8,76.8,113,80,113,80,109.1,76.8,109.1,76,110.1,70.8,110,69,109.8],
[63.2,103.7,63.9,105.9,65.1,106.2,66.3,108,70.8,108,77,108.3,80,108.3,80,100.2,75.2,100.2,74.4,102.6,71.4,101.8,63.9,102.2],
[72.8,135.2,75.3,135.2],
[64.3,62.8,65.2,63.6,66.3,62.8,69.6,62.8,70.4,61,73.7,61,73.7,60.1,68.6,60.3,68,62.3,66.3,62.8,65,62],
[67.2,22,69,23,72,22.6,74.7,22.2,72,21.4,69,21],
[4.9,182.3,5.3,180.5,4.9,178.6,4.5,180.5],
[4.7,83.9,5.5,81.4,5,80,4,79.5],
[8.1,75.8,8.4,74.9,8,74,7.8,74.9],
[16.2,66,16.6,65.3,16.2,64.6,15.9,65.3],
[13,59.1,13.3,57.9,13,56.6,12.8,57.9],
[16.2,42,16.7,40.9,16.2,39.6,15.8,40.9],
[32.4,68.4,32.7,67.5,32.4,66.7,32.1,67.5],
[53.1,53,54,54.5,55,53,55.8,48.3,54.4,53,53.5,51.8],
[59.6,103.7,60.4,103.7,59.8,102.4],
[75.8,103.7,80,103.7],
[72.8,135.2,75.3,135.2],
[3.8,7.9,5.3,7.9],
[13.9,24.5,14.2,24.8,14.3,24.2]
];
const p15L2=[[0,175,0.6,173,2.5,175,5.1,174,6.6,171.5,12.9,172.5,14.6,167.6,16.2,170,17.4,169.6,20.1,161.7,21.3,164.2,22,170,22.8,166.1,24,169.6,26.1,165.2,27.7,163.7,28.5,167.6,30.8,156.8,31.6,165.6,32.4,161.7,33.2,167.6,35.1,160.3,35.9,150,36.3,162.7,37.1,150,37.9,163.7,39.6,165.2,40.2,156.4,40.8,165.2,42.9,165.2,44.4,161.7,44.7,148.5,46.2,147.5,47.4,148,47.6,163.7,48.4,154,49.2,159.8,49.6,143.1,50.9,164.2,51.3,152.9,52.5,162.7,53.5,166.1,56,166.4,56.4,152.9,56.6,138.2,57.4,128.4,58,113.7,58.5,94.2,58.9,84.4,60.5,80.4,62.4,73.6,62.2,70.6,60.1,64.8,58.1,61.3,56.4,58.9,55,58.7,40.8,73.6,28.5,88.3,14.2,102.5,0,115.2]];
const p15Cyan2=[[47.6,145,49.4,142.6,49.2,137.3,47.8,134.6],[51.1,147,52.3,151.9,52.5,141.2,51.9,122,51.5,128.4,51.1,133.3]];
const p15L3=[[0,171.5,0.6,170.5,2.9,172,4.5,170.5,5.3,172,6,166.1,7,171.5,8.6,166.1,9.9,169.6,13.1,170,13.8,163.7,16.2,166.1,17,160.8,18.7,164.7,19.5,155.9,19.5,144.1,20.7,152.9,23.6,153.4,24.4,165.2,25.7,155.9,29.3,151,30,145.1,32.2,145.1,33.2,136.3,35.5,140.2,36.3,148,37.1,133.3,38.4,138.2,39.6,154.9,39.8,142.1,39.6,139.2,42.9,134.3,43.3,133.3,46.8,136.8,47.6,128.4,48.6,130.4,49.4,123.5,50,127.4,51.1,109.8,52.3,113.7,53.1,123.5,54.4,134.3,55.2,133.3,56,121.6,57,103.9,58,84.4,60.1,78.5,61.5,71.6,60.9,68.7,58.9,64.8,56.4,60.1,55,59.9,40.8,74.9,28.5,89.7,14.2,103.7,0,116.5],[45.2,140.8,46,141.2,46.6,140,46,139,45.2,139.2],[44.7,139.8,46.4,140,46.4,138.6,44.7,138.6]];
const p15L4=[[0,165.6,0.8,162.7,2.5,166.1,4.1,164.2,5.1,166.1,5.8,159.3,6.6,165.2,8.6,163.7,9.7,165.2,12.9,165.7,14.6,155.9,17,156.3,18.5,160.3,19.5,143.1,19.9,141.2,20.9,146,22.2,139.2,24.4,152.9,26,145.1,28.1,143.1,30,136.3,32,132.3,33.9,135.3,34.7,128.4,35.1,123.5,36.3,129.4,37.3,123,40.4,130.4,43.3,123.5,44.9,124.5,47,119.6,48.4,123.5,50.3,108.8,51.1,102,52.5,104.9,53.1,110.8,55,126.5,56.2,113.7,57.2,94.2,58.5,79.5,60.5,74.6,60.9,71.6,60.1,68.7,58.1,64.3,56.4,61.2,55,61.2,40.8,76,28.5,91,14.2,104.9,0,117.7]];
const p15L5=[[0,162.2,0.8,159.3,2.5,162.7,4.1,160,4.9,162.2,5.8,156.3,6.8,161.2,8,155.9,10.3,160.3,12.1,157.8,13.1,159.8,14.4,151.9,16.6,149,18.1,153.4,18.9,140.2,19.5,133.3,21.3,133.8,22.6,141.7,24,136.3,26.1,141.2,26.9,133.3,28.5,134.3,30,125.5,32.2,129.4,34.9,117.2,35.7,121.1,38.2,115.7,41,120.6,43.9,117.2,44.5,114.7,47.8,109.8,49.6,99,51.9,96.1,53.3,104,54.6,112.8,55.6,104,56.6,89.3,58.1,77.5,60.1,72.6,60.3,71.1,59.3,67.7,57.2,64.3,56.4,62.6,55,62.6,40.8,77.5,28.5,92.4,14.2,106.4,0,118.8]];
const p15L6=[[0,156.3,1,156,2.3,160,4.1,156,4.9,159.6,5.8,153.7,7.2,158,7.8,156,10.1,155.7,10.6,160,12.1,156.6,13.1,158,14.6,148.5,16.2,148.5,17.2,147.5,18.7,152.9,19.1,136.3,19.5,129.9,21.3,127.5,22.6,135.8,23.8,132.8,25.7,134.8,26.9,128.4,29.3,126.5,30,122.6,32.2,122.6,34.9,112.8,35.7,116.7,38,109.8,41,113.3,44.3,106.9,47.8,104.4,49,98.1,51.7,89.7,53.1,94.2,55,100,56,89.3,57.2,75.5,58.9,71.6,59.2,69.7,57.9,66.7,56.4,64.1,55,64.1,40.8,79,28.5,93.7,14.2,107.9,0,120.1]];
const p15L7=[[0,150,2.1,151,3.3,153.4,4.7,151,6.6,149.5,8,145.1,10.5,149,12.1,147.5,14.2,146,16.4,141.2,17.9,128.4,19.5,123.5,21.3,121.6,23.2,126,25.7,124.5,26.9,121.1,30,115.7,32.2,113.7,34.9,108.4,35.7,112.3,38.2,105,41,106,44.3,101,47.8,97,49,92,51.9,84.8,53.5,91.2,55,91.7,56.6,82.4,57.2,73.6,58,71.1,57.9,68.7,56.4,65.5,55,65.5,40.8,80.4,28.5,95.1,14.2,109.3,0,121.6]];
const p15L8=[[0,149.5,2.1,144.1,3.3,145.1,5.1,143.1,7.2,142.6,9.2,138.7,10.5,142.1,11.7,140.7,12.9,135.3,14.6,137.2,16,135.8,17.9,126.5,19.7,117.7,21.1,116.7,22.2,119.6,23,116.2,24.4,118.6,26.9,114.7,28.3,114.7,30.2,109.3,32.6,104.9,34.9,102,35.7,105,38.2,100,40.8,100,44.9,95.1,47.8,93.2,49.2,88.3,51.9,80.4,54.2,83.9,56,79.5,57,73.1,57,70.6,56,67.7,55,67.2,40.8,81.9,28.5,96.6,14.2,110.8,0,123]];
const p15L9=[[0,141.6,1.6,141.2,2.5,136.3,4.1,137.7,4.9,135.8,5.8,137.7,7.2,135.3,10.1,134.3,14,128.4,16.2,123.5,19.5,111.8,22,113.3,24.4,112.3,26.9,109.8,30.4,105,34.7,99,36.7,98.6,38.8,93.2,42.5,89.7,46.6,87.3,48.6,84.4,50.7,77,48.6,77,40.8,84.4,28.5,98.1,14.2,113.3,0,125],[53.5,74.8,55,76.7,56,75,56.1,71.6,55,70.3,54.4,72.6]];
const p15L10=[[1.7,128.9,6,130.4,9.6,127.4,13.3,126,16.2,122.6,17.9,116.7,19.5,109.8,17.9,109.3,11.3,115.7,3.9,124.5],[24.7,103.9,26.1,104.4,27.7,103,28.9,101.5,27.7,100.5,26.1,103]];
const p15L11=[[11.1,120.6,12.3,122.3,14.6,120.6,15.8,118.2,14.8,116.5,12.1,118.1]];

/* ---------- panel layout (pixels) and draw order (colour level, polygons) ---------- */
const panels=[
 {key:"ref",title:"S2_REF",left:214.3,right:1465,top:85,bottom:1333.4,titleY:59,xTitleY:1488,yTitleX:73.6,cbLeft:1468,cbRight:1519,cbTop:85.8,cbBottom:919,cbLabelX:1533,cbTitleX:1708,
  layers:[[1,refL1],[0,refHoles],[1,refIslands],[2,refL2],[3,refL3],[4,refL4],[5,refL5],[6,refL6],[7,refL7],[8,refL8],[9,refL9],[10,refL10],[11,refL11],[12,refL12],[13,refL13]]},
 {key:"s2-0-5",title:"S2_0.5",left:2004.5,right:3255.5,top:90,bottom:1339,titleY:50,xTitleY:1493,yTitleX:1864,cbLeft:3258,cbRight:3312,cbTop:91,cbBottom:924,cbLabelX:3326,cbTitleX:3496,
  layers:[[1,p05L1],[0,p05Holes],[1,p05Islands],[2,p05L2],[3,p05L3],[4,p05L4],[5,p05L5],[6,p05L6],[7,p05L7],[8,p05L8],[9,p05L9],[10,p05L10],[11,p05L11]]},
 {key:"s2-1-0",title:"S2_1.0",left:214,right:1461,top:1607,bottom:2850.8,titleY:1568,xTitleY:3005,yTitleX:73.6,cbLeft:1463,cbRight:1517,cbTop:1607,cbBottom:2437,cbLabelX:1531,cbTitleX:1708,
  layers:[[1,p10L1],[0,p10Holes],[1,p10Islands],[0,p10Centers],[2,p10L2],[3,p10L3],[4,p10L4],[5,p10L5],[6,p10L6],[7,p10L7],[8,p10L8],[9,p10L9],[10,p10L10],[11,p10L11]]},
 {key:"s2-1-5",title:"S2_1.5",left:2003,right:3247,top:1607,bottom:2849.6,titleY:1576,xTitleY:3003,yTitleX:1864,cbLeft:3250,cbRight:3301,cbTop:1607,cbBottom:2436.6,cbLabelX:3314,cbTitleX:3496,
  layers:[[1,p15L1],[0,p15Holes],[1,p15Islands],[2,p15L2],[1,p15Cyan2],[3,p15L3],[4,p15L4],[5,p15L5],[6,p15L6],[7,p15L7],[8,p15L8],[9,p15L9],[10,p15L10],[11,p15L11]]}
];

const SVGNS="http://www.w3.org/2000/svg";
const fig=document.getElementById("figure");
function mk(tag,parent,attrs){
  const el=document.createElementNS(SVGNS,tag);
  for(const k in attrs){el.setAttribute(k,attrs[k]);}
  parent.appendChild(el);
  return el;
}
function drawPanel(p,idx){
  const xScale=t=>p.left+t*(p.right-p.left)/80;
  const yScale=v=>p.bottom-v*(p.bottom-p.top)/239;
  const g=mk("g",fig,{});
  
  

  const clip=mk("clipPath",g,{id:"clip"+idx});
  mk("rect",clip,{x:p.left,y:p.top,width:p.right-p.left,height:p.bottom-p.top});

  const plot=mk("g",g,{"clip-path":"url(#clip"+idx+")"});
  
  

  const base=mk("rect",plot,{x:p.left,y:p.top,width:p.right-p.left,height:p.bottom-p.top,fill:levelColors[0]});
  
  

  p.layers.forEach(function(layer){
    const level=layer[0];
    layer[1].forEach(function(poly){
      let d="";
      for(let i=0;i<poly.length;i+=2){
        d+=(i?"L":"M")+xScale(poly[i]).toFixed(1)+" "+yScale(poly[i+1]).toFixed(1);
      }
      const path=mk("path",plot,{d:d+"Z",fill:levelColors[level],stroke:"#000","stroke-width":"2.6","stroke-linejoin":"round"});
      
      
    });
  });

  const frame=mk("rect",g,{x:p.left,y:p.top,width:p.right-p.left,height:p.bottom-p.top,fill:"none",stroke:"#000","stroke-width":"3"});
  
  

  timeTicks.forEach(function(v){
    const tick=mk("line",g,{x1:xScale(v),x2:xScale(v),y1:p.bottom,y2:p.bottom+14,stroke:"#000","stroke-width":"3"});
    
    
    const label=mk("text",g,{x:xScale(v),y:p.bottom+62,"font-size":"50","text-anchor":"middle"});
    
    
    label.textContent=v;
  });
  pointTicks.forEach(function(v){
    const tick=mk("line",g,{x1:p.left-14,x2:p.left,y1:yScale(v),y2:yScale(v),stroke:"#000","stroke-width":"3"});
    
    
    const label=mk("text",g,{x:p.left-17,y:yScale(v)+18,"font-size":"50","text-anchor":"end"});
    
    
    label.textContent=v;
  });

  const title=mk("text",g,{x:p.left,y:p.titleY,"font-size":"50","font-weight":"bold"});
  
  
  title.textContent=p.title;

  const xTitle=mk("text",g,{x:(p.left+p.right)/2,y:p.xTitleY,"font-size":"55","font-weight":"bold","text-anchor":"middle"});
  
  
  xTitle.textContent="Time, s";

  const cy=(p.top+p.bottom)/2;
  const yTitle=mk("text",g,{x:p.yTitleX,y:cy,"font-size":"55","font-weight":"bold","text-anchor":"middle",transform:"rotate(-90 "+p.yTitleX+" "+cy+")"});
  
  
  yTitle.textContent="Sample length, points";

  /* colour legend */
  const legend=mk("g",g,{});
  
  
  const bandH=(p.cbBottom-p.cbTop)/levelColors.length;
  levelColors.forEach(function(c,i){
    const band=mk("rect",legend,{x:p.cbLeft,y:p.cbBottom-(i+1)*bandH,width:p.cbRight-p.cbLeft,height:bandH,fill:c,stroke:"#000","stroke-width":"1.5"});
    
    
  });
  const cbFrame=mk("rect",legend,{x:p.cbLeft,y:p.cbTop,width:p.cbRight-p.cbLeft,height:p.cbBottom-p.cbTop,fill:"none",stroke:"#000","stroke-width":"2"});
  
  
  legendTicks.forEach(function(v){
    const ly=p.cbBottom-2-(v/50)*bandH;
    const label=mk("text",legend,{x:p.cbLabelX,y:ly+18,"font-size":"49"});
    
    
    label.textContent=v;
  });
  const ltY=p.cbTop+(p.cbBottom-p.cbTop)*0.4805;
  const lt=mk("text",legend,{x:p.cbTitleX,y:ltY,"font-size":"55","font-weight":"bold","text-anchor":"middle",transform:"rotate(-90 "+p.cbTitleX+" "+ltY+")"});
  
  
  lt.textContent="Temperature, \u00B0C";
}
panels.forEach(drawPanel);
</script>
</body>
</html>
